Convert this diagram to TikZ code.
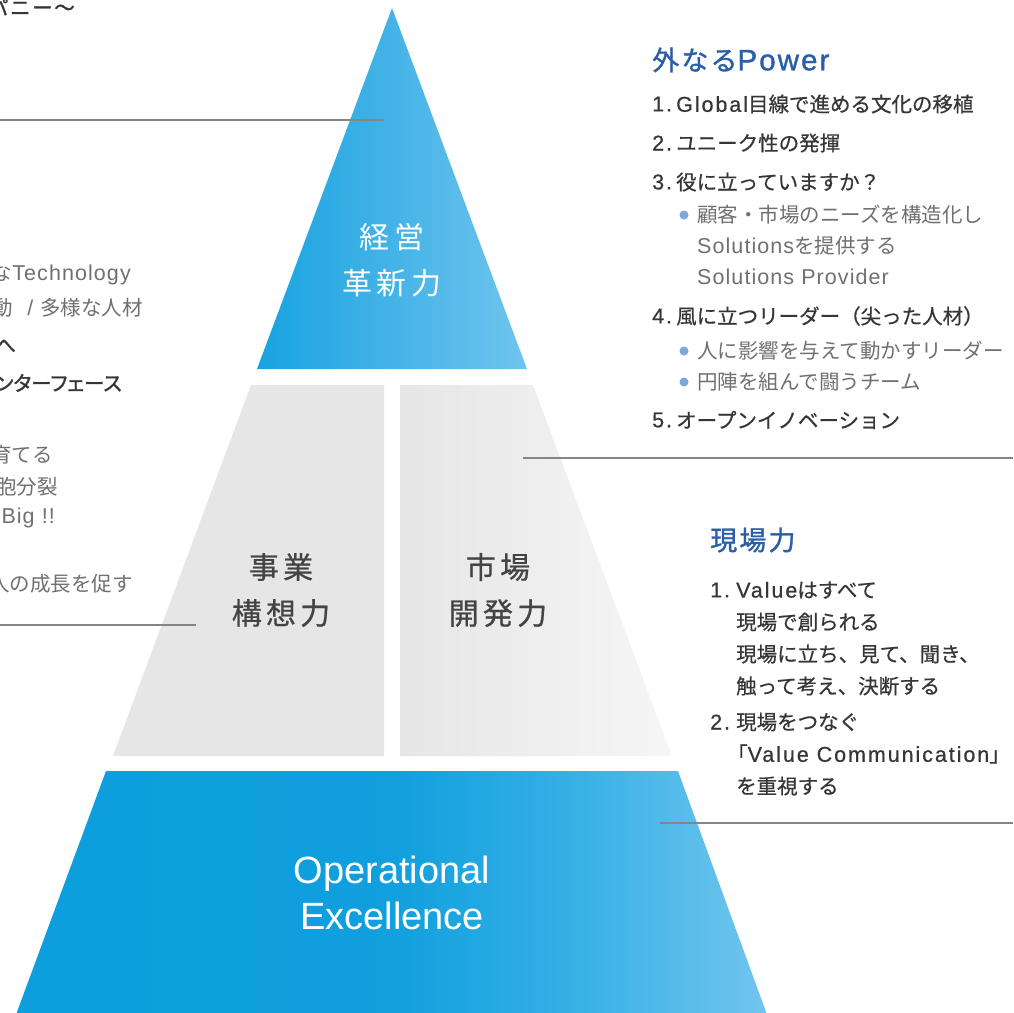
\documentclass[tikz,border=0pt]{standalone}
\usepackage{fontspec}
\setmainfont{Noto Sans CJK JP}
\newfontfamily\jpmed[FakeBold=0.6]{Noto Sans CJK JP}
\newfontfamily\jpbold[FakeBold=1.2,LetterSpace=8]{Noto Sans CJK JP}
\newfontfamily\jpboldn[FakeBold=1.2]{Noto Sans CJK JP}
\newfontfamily\jpboldp[FakeBold=1.2,RawFeature=+palt]{Noto Sans CJK JP}
\newfontfamily\jpwide[LetterSpace=14]{Noto Sans CJK JP}
\newfontfamily\jpwidem[LetterSpace=14,FakeBold=0.7]{Noto Sans CJK JP}
\newfontfamily\latfont[LetterSpace=5]{Liberation Sans}
\newfontfamily\latmfont[LetterSpace=9,FakeBold=0.6]{Liberation Sans}
\newfontfamily\latbfont[LetterSpace=7,FakeBold=1.2]{Liberation Sans}
\newfontfamily\latplain{Liberation Sans}
\newcommand\LatR[1]{{\latfont\fontsize{21.5}{24}\selectfont #1}}
\newcommand\LatM[1]{{\latmfont\fontsize{21.5}{24}\selectfont #1}}
\newcommand\LatT[1]{{\latbfont\fontsize{29.5}{32}\selectfont #1}}
\definecolor{titleblue}{HTML}{2A5EA6}
\definecolor{pyrL}{HTML}{0C9EDD}
\definecolor{pyrM}{HTML}{36B0E5}
\definecolor{pyrR}{HTML}{72C5EF}
\definecolor{triL}{HTML}{18A3E0}
\definecolor{triR}{HTML}{70C4EE}
\definecolor{txtdark}{HTML}{363636}
\definecolor{txtgray}{HTML}{707070}
\definecolor{pyrtxt}{HTML}{444444}
\definecolor{dotblue}{HTML}{7EA7DA}
\definecolor{linegray}{HTML}{858585}
\definecolor{grayA}{HTML}{E6E6E7}
\definecolor{grayB}{HTML}{F6F6F6}
\pgfdeclarehorizontalshading{opexshade}{100bp}{color(0bp)=(pyrL); color(25bp)=(pyrL); color(50bp)=(pyrL!96!pyrR); color(62bp)=(pyrM); color(75bp)=(pyrR); color(100bp)=(pyrR)}
\tikzset{
  conn/.style={draw=linegray, line width=1.2pt},
  item/.style={anchor=west, inner sep=0pt, text=txtdark, font=\jpmed\fontsize{20.5}{24}\selectfont},
  sub/.style={anchor=west, inner sep=0pt, text=txtgray, font=\fontsize{20.5}{24}\selectfont},
  head/.style={anchor=west, inner sep=0pt, text=titleblue, font=\jpbold\fontsize{27}{32}\selectfont},
  cut/.style={anchor=east, inner sep=0pt, text=txtgray, font=\fontsize{20.5}{24}\selectfont},
  cutb/.style={anchor=east, inner sep=0pt, text=txtdark, font=\jpboldn\fontsize{20.5}{24}\selectfont},
  pyrw/.style={align=center, inner sep=0pt, text=white, font=\jpwide\fontsize{30}{46}\selectfont},
  pyrg/.style={align=center, inner sep=0pt, text=pyrtxt, font=\jpwidem\fontsize{30}{46}\selectfont},
  dot/.style={circle, fill=dotblue, inner sep=0pt, minimum size=9pt}
}
\begin{document}
\begin{tikzpicture}[x=1pt,y=-1pt]
\useasboundingbox (0,0) rectangle (1013,1013);
\clip (0,0) rectangle (1013,1013);
\fill[white] (0,0) rectangle (1013,1013);
% pyramid
\shade[left color=triL, right color=triR] (392,8) -- (527,369) -- (257,369) -- cycle;
\fill[grayA] (251,385) -- (384,385) -- (384,756) -- (113,756) -- cycle;
\shade[shading angle=120, left color=grayA, right color=grayB] (400,385) -- (533,385) -- (672,756) -- (400,756) -- cycle;
\shade[shading=opexshade] (106,771) -- (678,771) -- (769,1020) -- (14,1020) -- cycle;
% pyramid labels
\node[pyrw] (kei) at (392,260) {経営\\革新力};
\node[pyrg] (jig) at (281,590) {事業\\構想力};
\node[pyrg] (shi) at (498,590) {市場\\開発力};
\node[align=center, inner sep=0pt, text=white, font=\latplain\fontsize{38}{46}\selectfont] (ope) at (392,893) {Operational\\Excellence};
% connectors
\coordinate (l1a) at (0,120); \coordinate (l1b) at (384,120);
\coordinate (l2a) at (0,625); \coordinate (l2b) at (196,625);
\coordinate (r1a) at (523,458); \coordinate (r1b) at (1013,458);
\coordinate (r2a) at (660,823); \coordinate (r2b) at (1013,823);
\draw[conn] (l1a) -- (l1b);
\draw[conn] (l2a) -- (l2b);
\draw[conn] (r1a) -- (r1b);
\draw[conn] (r2a) -- (r2b);
% left (cut) texts
\node[cutb, font=\jpbold\fontsize{20.5}{24}\selectfont] (c0) at (75,7) {パニー～};
\node[cut] (c1) at (131,275) {な\LatR{Technology}};
\node[cut] (c2) at (143,308) {動\hspace{14pt}\LatR{/}\hspace{7pt}多様な人材};
\node[cutb] (c3) at (16,346) {へ};
\node[cutb, font=\jpboldp\fontsize{20.5}{24}\selectfont] (c4) at (122,383) {ンターフェース};
\node[cut] (c5) at (53,455) {育てる};
\node[cut] (c6) at (58,487) {胞分裂};
\node[cut] (c7) at (55,518) {\LatR{Big !!}};
\node[cut] (c8) at (133,584) {人の成長を促す};
% right: 外なるPower
\node[head] (h1) at (652,60) {外なる\LatT{Power}};
\node[item] (a1n) at (652,104) {\LatM{1.}}; \node[item] (a1) at (676,104) {\LatM{Global}目線で進める文化の移植};
\node[item] (a2n) at (652,143) {\LatM{2.}}; \node[item] (a2) at (676,143) {ユニーク性の発揮};
\node[item] (a3n) at (652,182) {\LatM{3.}}; \node[item] (a3) at (676,182) {役に立っていますか？};
\node[dot] (d1) at (684,215) {}; \node[sub] (s1) at (697,215) {顧客・市場のニーズを構造化し};
\node[sub] (s2) at (697,246) {\LatR{Solutions}を提供する};
\node[sub] (s3) at (697,277) {\LatR{Solutions Provider}};
\node[item] (a4n) at (652,316) {\LatM{4.}}; \node[item] (a4) at (676,316) {風に立つリーダー（尖った人材）};
\node[dot] (d2) at (684,351) {}; \node[sub] (s4) at (697,351) {人に影響を与えて動かすリーダー};
\node[dot] (d3) at (684,382) {}; \node[sub] (s5) at (697,382) {円陣を組んで闘うチーム};
\node[item] (a5n) at (652,420) {\LatM{5.}}; \node[item] (a5) at (676,420) {オープンイノベーション};
% right: 現場力
\node[head] (h2) at (710,540) {現場力};
\node[item] (b1n) at (710,590) {\LatM{1.}}; \node[item] (b1) at (736,590) {\LatM{Value}はすべて};
\node[item] (b1b) at (736,622) {現場で創られる};
\node[item] (b1c) at (736,654) {現場に立ち、見て、聞き、};
\node[item] (b1d) at (736,686) {触って考え、決断する};
\node[item] (b2n) at (710,722) {\LatM{2.}}; \node[item] (b2) at (736,722) {現場をつなぐ};
\node[item] (b2b) at (727,754) {「\LatM{Value Communication}」};
\node[item] (b2c) at (736,786) {を重視する};
\end{tikzpicture}
\end{document}
